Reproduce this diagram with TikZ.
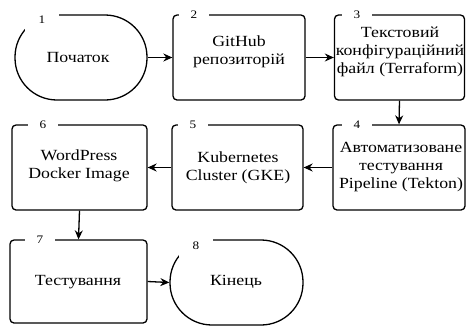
\documentclass[tikz,border=0pt]{standalone}
\usepackage{fontspec}
\newfontfamily\reffont{Liberation Serif}[FakeStretch=1.15]
\usetikzlibrary{arrows.meta}
\begin{document}
\begin{tikzpicture}[x=1pt,y=-1pt,
  box/.style={draw, line width=1.3pt, rounded corners=4pt, inner sep=0pt},
  term/.style={draw, line width=1.3pt, rounded corners=42pt, inner sep=0pt},
  txt/.style={align=center, font=\reffont\fontsize{15.5}{18}\selectfont},
  num/.style={fill=white, inner sep=0pt, minimum width=30pt, minimum height=9pt, font=\reffont\fontsize{11.5}{12}\selectfont},
  arr/.style={line width=1.3pt, -{Stealth[length=9pt,width=8pt]}}]
\useasboundingbox (0,0) rectangle (466,325);
% shapes
\node[term] (n1) at (81,57.5) [minimum width=132pt, minimum height=85pt] {};
\node[box]  (n2) at (239,57.5) [minimum width=132pt, minimum height=85pt] {};
\node[box]  (n3) at (399.5,57.5) [minimum width=130pt, minimum height=85pt] {};
\node[box]  (n4) at (399,167.5) [minimum width=132pt, minimum height=85pt] {};
\node[box]  (n5) at (237.5,167.5) [minimum width=131pt, minimum height=85pt] {};
\node[box]  (n6) at (79.5,167.5) [minimum width=135pt, minimum height=85pt] {};
\node[box]  (n7) at (78.5,281.5) [minimum width=137pt, minimum height=83pt] {};
\node[term] (n8) at (236.5,282.5) [minimum width=133pt, minimum height=85pt] {};
% number labels (break the outline)
\node[num, minimum width=34pt, minimum height=22pt] (l1) at (42,20) {1};
\node[num] (l2) at (194,15) {2};
\node[num] (l3) at (357,15) {3};
\node[num] (l4) at (357,125) {4};
\node[num] (l5) at (193,125) {5};
\node[num] (l6) at (43,125) {6};
\node[num] (l7) at (40,240) {7};
\node[num, minimum width=34pt, minimum height=22pt] (l8) at (196,246) {8};
% texts
\node[txt] (t1) at (78,57) {Початок};
\node[txt] (t2) at (239,52) {GitHub\\репозиторій};
\node[txt] (t3) at (400,52) {Текстовий\\конфігураційний\\файл (Terraform)};
\node[txt] (t4) at (401,167) {Автоматизоване\\тестування\\Pipeline (Tekton)};
\node[txt] (t5) at (238,167.5) {Kubernetes\\Cluster (GKE)};
\node[txt] (t6) at (79,166) {WordPress\\Docker Image};
\node[txt] (t7) at (78,282) {Тестування};
\node[txt] (t8) at (236,282) {Кінець};
% connectors
\draw[arr] (n1.east) -- (n2.west);
\draw[arr] (n2.east) -- (n3.west);
\draw[arr] (n3.south) -- (n4.north);
\draw[arr] (n4.west) -- (n5.east);
\draw[arr] (n5.west) -- (n6.east);
\draw[arr] (n6.south) -- (n7.north);
\draw[arr] (n7.east) -- (n8.west);
\end{tikzpicture}
\end{document}
